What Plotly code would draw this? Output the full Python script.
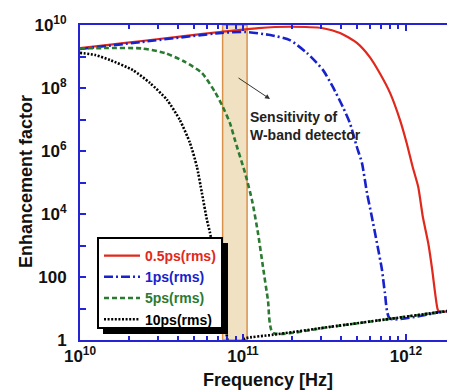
import plotly.graph_objects as go

# ---------------- data ----------------
red_f = [1.0e10, 1.5e10, 2.4e10, 4.1e10, 7.4e10, 1.24e11, 1.94e11, 3.1e11, 3.94e11, 5.0e11,
         6.0e11, 6.9e11, 8.0e11, 9.2e11, 1.01e12, 1.10e12, 1.19e12, 1.27e12, 1.37e12,
         1.45e12, 1.51e12, 1.57e12, 1.62e12, 2.0e12]
red_E = [1.86e9, 2.35e9, 3.1e9, 4.3e9, 6.1e9, 8.0e9, 8.8e9, 7.9e9, 5.6e9, 2.7e9,
         9.6e8, 3.0e8, 6.9e7, 9.6e6, 1.8e6, 3.1e5, 7.2e4, 8.0e3, 1.2e3,
         167, 31, 9.0, 7.7, 9.0]

blue_f = [1.0e10, 2.4e10, 7.4e10, 1.03e11, 1.47e11, 1.94e11, 2.47e11, 3.1e11, 3.56e11, 4.1e11,
          4.53e11, 5.0e11, 5.37e11, 5.77e11, 6.18e11, 6.64e11, 7.13e11, 7.43e11, 7.97e11,
          1.62e12, 2.0e12]
blue_E = [1.73e9, 2.9e9, 5.6e9, 6.0e9, 4.8e9, 3.3e9, 1.29e9, 3.7e8, 1.08e8, 2.5e7,
          7.7e6, 1.34e6, 4.2e5, 4.6e4, 8.0e3, 1.2e3, 167, 31, 4.8,
          7.7, 9.0]

green_f = [1.0e10, 1.49e10, 2.4e10, 3.32e10, 4.41e10, 5.6e10, 6.73e10, 7.53e10, 8.32e10, 8.93e10,
           1.03e11, 1.135e11, 1.236e11, 1.327e11, 1.423e11, 1.527e11, 3.4e11, 8.0e11, 1.62e12, 2.0e12]
green_E = [1.8e9, 1.86e9, 1.8e9, 1.29e9, 6.7e8, 3.0e8, 7.5e7, 2.5e7, 7.7e6, 2.2e6,
           2.0e5, 2.8e4, 2.5e3, 208, 18.6, 1.7, 2.6, 4.7, 7.7, 9.0]

black_f = [1.0e10, 1.24e10, 1.53e10, 2.11e10, 2.69e10, 3.42e10, 4.10e10, 4.73e10, 5.22e10, 5.60e10,
           6.01e10, 6.28e10, 6.73e10, 7.22e10, 7.76e10, 8.3e10, 9.5e10, 1.03e11, 1.53e11, 3.4e11,
           8.0e11, 1.62e12, 2.0e12]
black_E = [1.3e9, 1.12e9, 7.7e8, 3.7e8, 1.44e8, 4.2e7, 9.6e6, 1.8e6, 3.1e5, 4.6e4,
           6.5e3, 2.5e3, 347, 39, 4.3, 0.5, 0.8, 1.12, 1.46, 2.6,
           4.7, 7.7, 9.0]

series_names = ["0.5ps(rms)", "1ps(rms)", "5ps(rms)", "10ps(rms)"]

band_f = [7.5e10, 1.06e11]           # W-band detector sensitivity band

x_major = [1e10, 1e11, 1e12]
x_major_text = ["10<sup>10</sup>", "10<sup>11</sup>", "10<sup>12</sup>"]
x_minor = [2e10, 3e10, 4e10, 5e10, 6e10, 7e10, 8e10, 9e10,
           2e11, 3e11, 4e11, 5e11, 6e11, 7e11, 8e11, 9e11, 2e12]

y_ticks = [1, 10, 100, 1e3, 1e4, 1e5, 1e6, 1e7, 1e8, 1e9, 1e10]
y_tick_text = ["1", " ", "100", " ", "10<sup>4</sup>", " ", "10<sup>6</sup>", " ",
               "10<sup>8</sup>", " ", "10<sup>10</sup>"]

# ---------------- style ----------------
RED = "#e0281c"
BLUE = "#1822cc"
GREEN = "#2a7a32"
BLACK = "#000000"
AXIS = "#2424d4"
FONT = "Liberation Sans"

OFF = 8                      # default page (body) margin of the html page
W, H = 455 - OFF, 391 - OFF
ML, MR, MT, MB = 80 - OFF, 0, 25 - OFF, 51
PW, PH = W - ML - MR, H - MT - MB


def px2paper_x(px):          # page pixel -> paper coordinate
    return (px - OFF - ML) / PW


def px2paper_y(py):
    return (H - MB - (py - OFF)) / PH


fig = go.Figure()

colors = [RED, BLUE, GREEN, BLACK]
dashes = ["solid", "9px,3px,2px,3px", "5px,3px", "2px,1.6px"]
xs = [red_f, blue_f, green_f, black_f]
ys = [red_E, blue_E, green_E, black_E]
widths = [2.2, 2.6, 2.6, 2.6]

for name, c, d, x, y, w in zip(series_names, colors, dashes, xs, ys, widths):
    fig.add_trace(go.Scatter(
        x=x, y=y, mode="lines",
        name=f"<span style='color:{c}'>{name}</span>",
        line=dict(color=c, width=w, dash=d, shape="spline", smoothing=0.6),
    ))

# W-band shaded region
fig.add_shape(type="rect", xref="x", yref="paper",
              x0=band_f[0], x1=band_f[1], y0=0, y1=1,
              fillcolor="#f1e1c3", line=dict(color="#d8924a", width=1.5),
              layer="below")

# Legend box with shadow (drawn as shapes, legend itself transparent)
fig.add_shape(type="rect", xref="paper", yref="paper",
              x0=px2paper_x(103), x1=px2paper_x(228),
              y0=px2paper_y(334), y1=px2paper_y(243),
              fillcolor="#000000", line=dict(width=0), layer="above")
fig.add_shape(type="rect", xref="paper", yref="paper",
              x0=px2paper_x(98), x1=px2paper_x(222),
              y0=px2paper_y(328), y1=px2paper_y(238),
              fillcolor="#ffffff", line=dict(color="#000000", width=2), layer="above")

# annotations (log axes -> log10 coordinates)
fig.add_annotation(x=11.166, y=7.65, xref="x", yref="y",
                   ax=-33, ay=-22, showarrow=True, arrowhead=2, arrowsize=1,
                   arrowwidth=1, arrowcolor="#333333", text="")
fig.add_annotation(x=11.031, y=6.78, xref="x", yref="y",
                   text="Sensitivity of<br>W-band detector", showarrow=False,
                   xanchor="left", yanchor="middle", align="left",
                   font=dict(family=FONT, size=14, color="#222222", weight="bold"))

# axis titles as paper annotations
fig.add_annotation(x=px2paper_x(268), y=px2paper_y(380), xref="paper", yref="paper",
                   text="Frequency [Hz]", showarrow=False,
                   xanchor="center", yanchor="middle",
                   font=dict(family=FONT, size=18, color="#111111", weight="bold"))
fig.add_annotation(x=px2paper_x(26), y=px2paper_y(182), xref="paper", yref="paper",
                   text="Enhancement factor", showarrow=False, textangle=-90,
                   xanchor="center", yanchor="middle",
                   font=dict(family=FONT, size=18, color="#111111", weight="bold"))

fig.update_layout(
    width=W, height=H,
    margin=dict(l=ML, r=MR, t=MT, b=MB, pad=0, autoexpand=False),
    paper_bgcolor="white", plot_bgcolor="white",
    showlegend=True,
    legend=dict(x=px2paper_x(99), y=px2paper_y(240), xanchor="left", yanchor="top",
                bgcolor="rgba(0,0,0,0)", borderwidth=0, itemwidth=36,
                font=dict(family=FONT, size=14, weight="bold"),
                tracegroupgap=0),
    font=dict(family=FONT, color="#111111"),
)

fig.update_xaxes(
    type="log", range=[10, 12.30103], automargin=False,
    tickmode="array", tickvals=x_major, ticktext=x_major_text,
    ticks="inside", ticklen=6, tickwidth=1.5, tickcolor=AXIS,
    minor=dict(tickmode="array", tickvals=x_minor, ticks="inside", ticklen=4,
               tickwidth=1.5, tickcolor=AXIS, showgrid=False),
    showline=True, linecolor=AXIS, linewidth=2, mirror="allticks",
    showgrid=False, zeroline=False,
    tickfont=dict(family=FONT, size=17, color="#111111", weight="bold"),
)

fig.update_yaxes(
    type="log", range=[0, 10], automargin=False,
    tickmode="array", tickvals=y_ticks, ticktext=y_tick_text,
    ticks="inside", ticklen=6, tickwidth=1.5, tickcolor=AXIS,
    showline=True, linecolor=AXIS, linewidth=2, mirror="allticks",
    showgrid=False, zeroline=False,
    ticklabelstandoff=8,
    tickfont=dict(family=FONT, size=17, color="#111111", weight="bold"),
)

fig.write_html("out.html", config={"displayModeBar": False})
